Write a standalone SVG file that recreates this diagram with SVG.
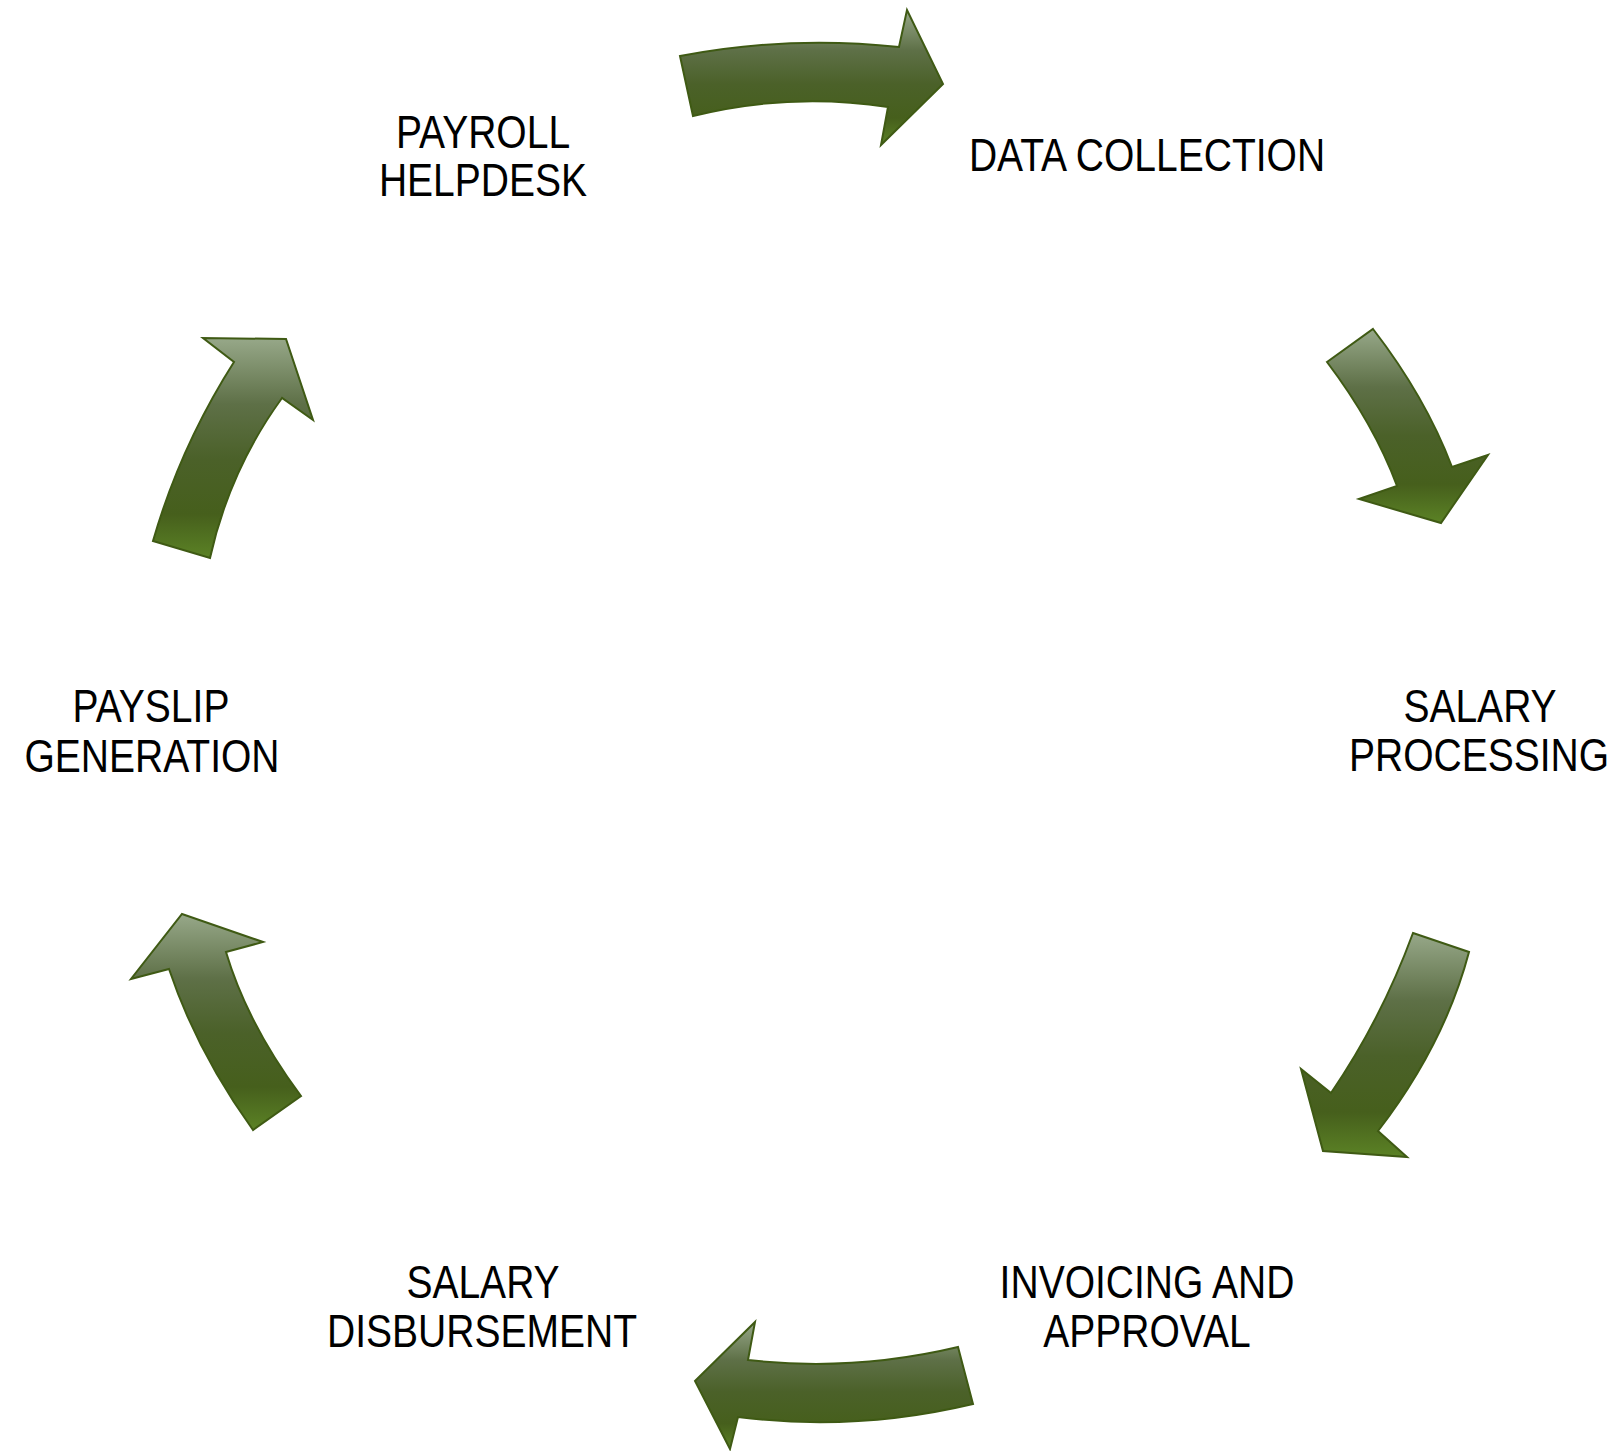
<svg xmlns="http://www.w3.org/2000/svg" width="1623" height="1451" viewBox="0 0 1623 1451">
  <style>
    .lbl { font-family: "Liberation Sans", Arial, "DejaVu Sans", sans-serif; font-size: 47px; fill: #000; text-anchor: middle; }
    .arrow { fill: url(#grad); stroke: #3f5a14; stroke-width: 2; stroke-linejoin: miter; }
  </style>
  <defs>
    <linearGradient id="grad" x1="0" y1="0" x2="0" y2="1">
      <stop offset="0" stop-color="#97a889"/>
      <stop offset="0.3" stop-color="#5e7047"/>
      <stop offset="0.55" stop-color="#4b6129"/>
      <stop offset="0.8" stop-color="#465f1c"/>
      <stop offset="1" stop-color="#5b8225"/>
    </linearGradient>
  </defs>
  <rect width="1623" height="1451" fill="#fff"/>

  <g id="connectors">
    <path class="arrow" d="M680,56 Q789,35 899,47 L907,10 L943,84 L881,145 L888,107 Q789.5,92 693,116 Z"/>
    <path class="arrow" d="M1327,362 L1373,329 Q1425.5,397 1452,467 L1488,455 L1441,523 L1359,499 L1397,486 Q1374,424 1327,362 Z"/>
    <path class="arrow" d="M1413,933 L1469,952 Q1444.5,1044.5 1378,1131 L1407,1157 L1323,1151 L1301,1069 L1331,1093 Q1381,1020 1413,933 Z"/>
    <path class="arrow" d="M958,1347 L973,1404 Q855.5,1432 738,1417 L730,1449 L695,1381 L755,1322 L748,1360 Q853,1372 958,1347 Z"/>
    <path class="arrow" d="M182,914 L263,942 L226,952 Q247.5,1024 301,1096 L253,1130 Q197,1052 169,969 L131,979 Z"/>
    <path class="arrow" d="M153,541 L210,558 Q229.5,470 282,398 L313,420 L286,339 L203,338 L234,362 Q180.5,446 153,541 Z"/>
  </g>

  <g id="node-payroll-helpdesk">
    <text class="lbl" transform="translate(483,148) scale(0.83,1)">PAYROLL</text>
    <text class="lbl" transform="translate(483,196) scale(0.83,1)">HELPDESK</text>
  </g>
  <g id="node-data-collection">
    <text class="lbl" transform="translate(1147,171) scale(0.83,1)">DATA COLLECTION</text>
  </g>
  <g id="node-salary-processing">
    <text class="lbl" transform="translate(1480,722) scale(0.83,1)">SALARY</text>
    <text class="lbl" transform="translate(1479,771) scale(0.83,1)">PROCESSING</text>
  </g>
  <g id="node-invoicing-approval">
    <text class="lbl" transform="translate(1147,1298) scale(0.83,1)">INVOICING AND</text>
    <text class="lbl" transform="translate(1147,1347) scale(0.83,1)">APPROVAL</text>
  </g>
  <g id="node-salary-disbursement">
    <text class="lbl" transform="translate(483,1298) scale(0.83,1)">SALARY</text>
    <text class="lbl" transform="translate(482,1347) scale(0.83,1)">DISBURSEMENT</text>
  </g>
  <g id="node-payslip-generation">
    <text class="lbl" transform="translate(151,722) scale(0.83,1)">PAYSLIP</text>
    <text class="lbl" transform="translate(152,772) scale(0.83,1)">GENERATION</text>
  </g>
</svg>
